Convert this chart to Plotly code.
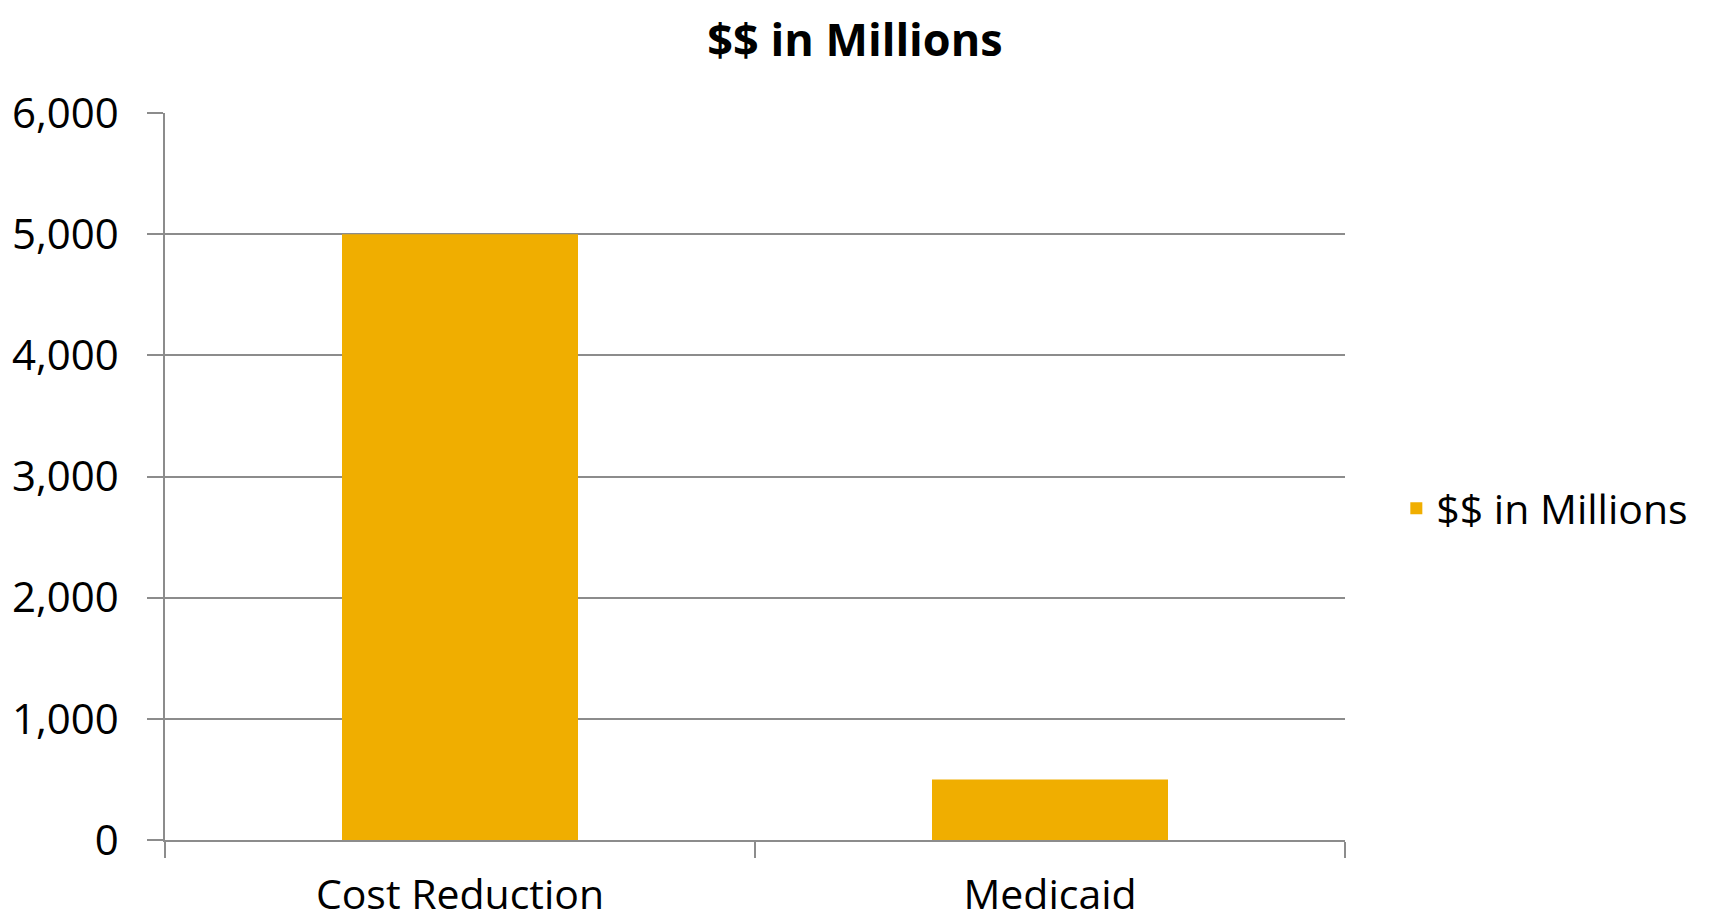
import plotly.graph_objects as go

categories = ["Cost Reduction", "Medicaid"]
values = [5000, 500]
series_name = "$$ in Millions"
y_ticks = [0, 1000, 2000, 3000, 4000, 5000, 6000]
y_tick_labels = ["0", "1,000", "2,000", "3,000", "4,000", "5,000", "6,000"]

FONT = "Open Sans"
GRID = "#8c8c8c"

W, H = 1695, 914  # page body has an 8px margin

fig = go.Figure()
fig.add_trace(go.Bar(
    x=categories, y=values, name=series_name,
    marker=dict(color="#F0AE00", line=dict(width=0)),
    showlegend=True,
))

fig.update_layout(
    width=W, height=H,
    margin=dict(l=157, r=W - 1337.5, t=105, b=H - 832, pad=0, autoexpand=False),
    paper_bgcolor="white", plot_bgcolor="white",
    bargap=0.6,
    title=dict(text="<b>$$ in Millions</b>", x=847/W, xanchor="center",
               y=1 - 32/H, yanchor="middle",
               font=dict(family=FONT, size=45, color="black")),
    font=dict(family=FONT, color="black"),
    legend=dict(x=1.0435, xanchor="left", y=0.456, yanchor="middle",
                font=dict(family=FONT, size=41, color="black"),
                bgcolor="rgba(0,0,0,0)"),
    xaxis=dict(
        showline=True, linecolor=GRID, linewidth=1.5,
        ticks="outside", ticklen=16, tickcolor=GRID, tickwidth=1.5,
        tickson="boundaries", showgrid=False, automargin=False,
        tickfont=dict(family=FONT, size=41, color="black"),
        ticklabelstandoff=18,
    ),
    yaxis=dict(
        range=[0, 6000], tickvals=y_ticks, ticktext=y_tick_labels,
        showline=True, linecolor=GRID, linewidth=1.5,
        ticks="outside", ticklen=16, tickcolor=GRID, tickwidth=1.5,
        showgrid=True, gridcolor=GRID, gridwidth=1.5,
        zeroline=False, automargin=False,
        tickfont=dict(family=FONT, size=42, color="black"),
        ticklabelstandoff=20,
    ),
)

fig.write_html("out.html")
